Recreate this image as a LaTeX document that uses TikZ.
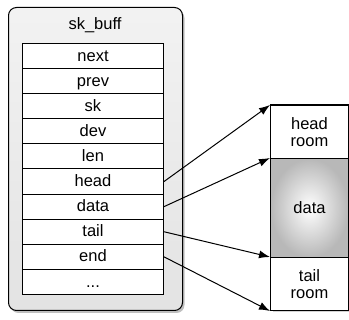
\documentclass[tikz,border=0pt]{standalone}
\usepackage{fontspec}
\setmainfont{Liberation Sans}
\usetikzlibrary{arrows.meta,shadows,positioning}
\begin{document}
\begin{tikzpicture}[x=1pt,y=-1pt,
  txt/.style={font=\fontsize{16.5}{18}\selectfont},
  field/.style={draw, line width=1pt, fill=white, minimum width=141pt, minimum height=25.1pt,
    inner sep=0pt, text height=12.8pt, text depth=2.5pt, anchor=north west, txt},
  region/.style={draw, line width=1pt, fill=white, minimum width=78pt, inner sep=0pt,
    anchor=north west, align=center, txt,
    drop shadow={shadow xshift=2pt, shadow yshift=-2pt, opacity=0.35}},
  ptr/.style={line width=1pt, -{Latex[length=11pt,width=8pt]}}
]
\useasboundingbox (0,0) rectangle (349,320);

% sk_buff container
\node[draw, line width=1pt, rounded corners=8pt, anchor=north west,
      minimum width=174pt, minimum height=303pt, inner sep=0pt,
      top color=black!5, bottom color=black!11,
      drop shadow={shadow xshift=2pt, shadow yshift=-2.5pt, opacity=0.5}]
  (box) at (8,7) {};
\node[txt] (title) at (95,25) {sk\_buff};

% structure fields
\foreach \name [count=\i from 0] in {next, prev, sk, dev, len, head, data, tail, end}
  \node[field] (f-\name) at (22,{43+25.1*\i}) {\name};
\node[field] (f-more) at (22,{43+25.1*9}) {...};

% packet buffer regions
\node[region, minimum height=53pt] (hroom) at (270,105) {head\\[-1pt]room};
\node[region, minimum height=99pt, shading=radial, inner color=white, outer color=black!28] (dbuf) at (270,158) {data};
\node[region, minimum height=53pt] (troom) at (270,257) {tail\\[-1pt]room};
\draw[line width=1pt] (hroom.north west) rectangle (troom.south east);

% pointers into the buffer
\draw[ptr] (f-head.east) -- (hroom.north west);
\draw[ptr] (f-data.east) -- (dbuf.north west);
\draw[ptr] (f-tail.east) -- (troom.north west);
\draw[ptr] (f-end.east) -- (troom.south west);
\end{tikzpicture}
\end{document}
